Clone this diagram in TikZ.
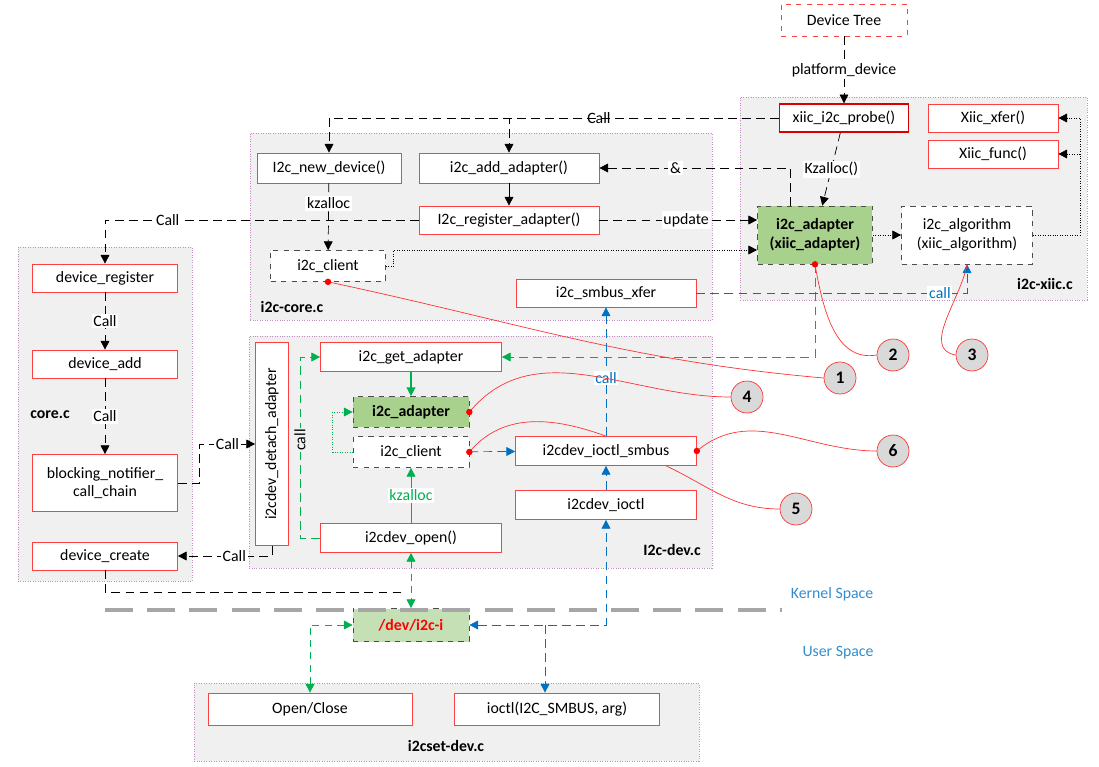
\documentclass[tikz,border=0pt]{standalone}
\usepackage{fontspec}
\setmainfont{Carlito}
\usetikzlibrary{arrows.meta}
\definecolor{grn}{RGB}{0,176,80}
\definecolor{blu}{RGB}{0,112,192}
\definecolor{adpfill}{RGB}{169,209,142}
\definecolor{devfill}{RGB}{197,224,180}
\tikzstyle{frame}=[draw=violet!45, densely dotted, fill=gray!12, inner sep=0pt]
\tikzstyle{box}=[draw=red!75, fill=white, minimum height=0.56cm, inner sep=1pt]
\tikzstyle{obj}=[draw=black!70, dashed, fill=white, minimum height=0.62cm, inner sep=1pt]
\tikzstyle{lbl}=[fill=white, inner sep=1pt]
\tikzstyle{num}=[circle, draw=red!80, fill=gray!30, minimum size=0.64cm, inner sep=0pt, font=\bfseries]
\tikzstyle{dot}=[circle, fill=red, inner sep=1.3pt]
\tikzstyle{blk}=[dashed, dash pattern=on 5pt off 3pt, -{Triangle[length=5pt,width=5pt]}]

\begin{document}
\begin{tikzpicture}[x=0.02cm, y=-0.02cm, font=\fontsize{9}{10}\selectfont, >={Triangle[length=5pt,width=5pt]}]
		   \useasboundingbox (0,0) rectangle (1099,767);
		   \begin{scope}
			   % frames
			   \node (fxiic) at (913.5,198.5)[frame, minimum width=6.94cm, minimum height=4.06cm] {};
			   \node (fcore) at (481,226.5)[frame, minimum width=9.24cm, minimum height=3.74cm] {};
			   \node (fcorec) at (105,414)[frame, minimum width=3.48cm, minimum height=6.68cm] {};
			   \node (fdev) at (480.5,452)[frame, minimum width=9.26cm, minimum height=4.64cm] {};
			   \node (fset) at (446.5,722)[frame, minimum width=10.1cm, minimum height=1.56cm] {};
			   \node at (1045,284) {\textbf{i2c-xiic.c}};
			   \node at (292,307) {\textbf{i2c-core.c}};
			   \node at (50,415) {\textbf{core.c}};
			   \node at (672,550) {\textbf{I2c-dev.c}};
			   \node at (446,746) {\textbf{i2cset-dev.c}};
			   \node at (832,594) {\textcolor{blu!80}{Kernel Space}};
			   \node at (838,653) {\textcolor{blu!80}{User Space}};

			   % i2c-xiic.c
			   \node (dtree) at (844,20)[box, dashed, minimum width=2.52cm, minimum height=0.64cm] {Device Tree};
			   \node (probe) at (844,118)[box, draw=red!85!black, thick, minimum width=2.58cm] {xiic\_i2c\_probe()};
			   \node (xfer) at (993,118)[box, minimum width=2.6cm] {Xiic\_xfer()};
			   \node (xfunc) at (993,154)[box, minimum width=2.6cm] {Xiic\_func()};
			   \node (xadp) at (815,235)[obj, fill=adpfill, minimum width=2.3cm, minimum height=1.16cm, align=center, font=\fontsize{9}{11}\selectfont\bfseries] {i2c\_adapter\\(xiic\_adapter)};
			   \node (algo) at (967,235)[obj, minimum width=2.62cm, minimum height=1.16cm, align=center, font=\fontsize{9}{11}\selectfont] {i2c\_algorithm\\(xiic\_algorithm)};

			   % i2c-core.c
			   \node (newdev) at (329,168)[box, minimum width=2.88cm, minimum height=0.6cm] {I2c\_new\_device()};
			   \node (addadp) at (509,168)[box, minimum width=3.6cm, minimum height=0.6cm] {i2c\_add\_adapter()};
			   \node (regadp) at (509,220)[box, minimum width=3.6cm] {I2c\_register\_adapter()};
			   \node (client) at (328,266)[obj, minimum width=2.3cm] {i2c\_client};
			   \node (smbus) at (606,293)[box, minimum width=3.6cm] {i2c\_smbus\_xfer};

			   % core.c
			   \node (devreg) at (105,278)[box, minimum width=2.9cm] {device\_register};
			   \node (devadd) at (105,364)[box, minimum width=2.9cm] {device\_add};
			   \node (block) at (105,483)[box, minimum width=2.9cm, minimum height=1.14cm, align=center] {blocking\_notifier\_\\call\_chain};
			   \node (devcreate) at (105,556)[box, minimum width=2.9cm] {device\_create};

			   % i2c-dev.c
			   \node (detach) at (272,444)[box, rotate=90, minimum width=4.06cm, minimum height=0.66cm] {i2cdev\_detach\_adapter};
			   \node (getadp) at (411,357)[box, minimum width=3.62cm, minimum height=0.58cm] {i2c\_get\_adapter};
			   \node (dadp) at (411,412)[obj, fill=adpfill, minimum width=2.32cm, font=\fontsize{9}{10}\selectfont\bfseries] {i2c\_adapter};
			   \node (dclient) at (411,452)[obj, minimum width=2.32cm] {i2c\_client};
			   \node (iosmbus) at (606,451)[box, minimum width=3.62cm, minimum height=0.58cm] {i2cdev\_ioctl\_smbus};
			   \node (ioctl) at (606,505)[box, minimum width=3.62cm, minimum height=0.58cm] {i2cdev\_ioctl};
			   \node (open) at (411,538)[box, minimum width=3.62cm, minimum height=0.58cm] {i2cdev\_open()};

			   % user space
			   \node (devi) at (411,625)[obj, fill=devfill, minimum width=2.32cm, minimum height=0.66cm, font=\fontsize{9}{10}\selectfont\bfseries] {\textcolor{red}{/dev/i2c-i}};
			   \node (openclose) at (310,709)[box, minimum width=4.08cm, minimum height=0.64cm] {Open/Close};
			   \node (uioctl) at (557,709)[box, minimum width=4.1cm, minimum height=0.64cm] {ioctl(I2C\_SMBUS, arg)};

			   % callouts
			   \node (c1) at (840,378)[num] {1};
			   \node (c2) at (893,355)[num] {2};
			   \node (c3) at (972,355)[num] {3};
			   \node (c4) at (747,397)[num] {4};
			   \node (c5) at (796,509)[num] {5};
			   \node (c6) at (893,451)[num] {6};

			   \coordinate (fx) at (1080,118);
			   \coordinate (kj) at (405,592);
			   \coordinate (bj) at (606,625);
			   \coordinate (bk) at (545,625);
		   \end{scope}
		   \begin{scope}
			   \draw [gray!70, line width=2.5pt, dash pattern=on 16pt off 8pt] (105,610) -- (782,610);

			   % black calls
			   \path [blk] (dtree) edge node[lbl] {platform\_device} (probe);
			   \draw [blk] (probe.west) -| node[lbl, pos=0.2] {Call} (newdev.north);
			   \draw [blk] (probe.west) -| (addadp.north);
			   \path [blk] (probe) edge node[lbl] {Kzalloc()} (xadp);
			   \draw [blk] ([xshift=-0.5cm]xadp.north) |- node[lbl, pos=0.8] {\&} (addadp.east);
			   \path [blk] (newdev) edge node[lbl, pos=0.3] {kzalloc} (client);
			   \path [-{Triangle[length=5pt,width=5pt]}] (addadp) edge (regadp);
			   \draw [blk] (regadp.east) -- node[lbl, pos=0.55] {update} (regadp.east -| xadp.west);
			   \draw [blk] (regadp.west) -| node[lbl, pos=0.4] {Call} (devreg.north);
			   \draw [densely dotted, ->] (client.east) -- ++(8,0) |- ([yshift=-0.3cm]xadp.west);
			   \path [densely dotted, ->] (xadp) edge (algo);
			   \draw [densely dotted, ->] (algo.east) -| (fx) -- (xfer.east);
			   \draw [densely dotted, ->] (fx |- xfunc.east) -- (xfunc.east);
			   \path [blk] (devreg) edge node[lbl] {Call} (devadd);
			   \path [blk] (devadd) edge node[lbl] {Call} (block);
			   \draw [blk] (block.east) -- ++(22,0) |- node[lbl, pos=0.75] {Call} (detach.north);
			   \draw [blk] (detach.west) |- node[lbl, pos=0.7] {Call} (devcreate.east);
			   \draw [dashed, dash pattern=on 5pt off 3pt] (devcreate.south) |- (kj);

			   % green
			   \draw [grn, dashed, dash pattern=on 5pt off 3pt, ->] (xadp.south) |- (getadp.east);
			   \path [grn, thick, ->] (getadp) edge (dadp);
			   \draw [grn, densely dotted, ->] (dclient.west) -- ++(-20,0) |- (dadp.west);
			   \draw [grn, dashed, dash pattern=on 5pt off 3pt, ->] (open.west) -- ++(-20,0) |- (getadp.west);
			   \node at (300,440)[lbl, fill=gray!12, rotate=90] {call};
			   \path [grn, ->] (open) edge node[lbl, fill=white] {kzalloc} (dclient);
			   \path [grn, dashed, dash pattern=on 4pt off 3pt, <->] (open) edge (devi);
			   \draw [grn, dashed, dash pattern=on 4pt off 3pt, <->] (openclose.north) |- (devi.west);

			   % blue
			   \draw [blu, dashed, dash pattern=on 5pt off 3pt, ->] (smbus.east) -| node[lbl, pos=0.45] {call} (algo.south);
			   \path [blu, dashed, dash pattern=on 5pt off 3pt, ->] (dclient) edge (iosmbus);
			   \path [blu, dashed, dash pattern=on 5pt off 3pt, ->] (iosmbus) edge node[lbl, fill=white, pos=0.45] {call} (smbus);
			   \path [blu, dashed, dash pattern=on 5pt off 3pt, ->] (ioctl) edge (iosmbus);
			   \draw [blu, dashed, dash pattern=on 5pt off 3pt, <->] (devi.east) -| (ioctl.south);
			   \draw [blu, dashed, dash pattern=on 5pt off 3pt, ->] (bk) -- (bk |- uioctl.north);

			   % callout lines
			   \draw [red!80] (client.south) to[out=-12, in=175] (c1.west);
			   \draw [red!80] (xadp.south) to[out=-80, in=190] (c2.west);
			   \draw [red!80] (algo.south) to[out=-100, in=170] (c3.west);
			   \draw [red!80] (dadp.east) to[out=50, in=180] (c4.west);
			   \draw [red!80] (dclient.east) to[out=50, in=160] (iosmbus.north);
			   \draw [red!80] ([xshift=1.2cm]iosmbus.south) to[out=-25, in=180] (c5.west);
			   \draw [red!80] (iosmbus.east) to[out=40, in=180] (c6.west);
			   \node at (client.south)[dot] {};
			   \node at (xadp.south)[dot] {};
			   \node at (dadp.east)[dot] {};
			   \node at (dclient.east)[dot] {};
			   \node at (iosmbus.east)[dot] {};
		   \end{scope}
	   \end{tikzpicture}
\end{document}
